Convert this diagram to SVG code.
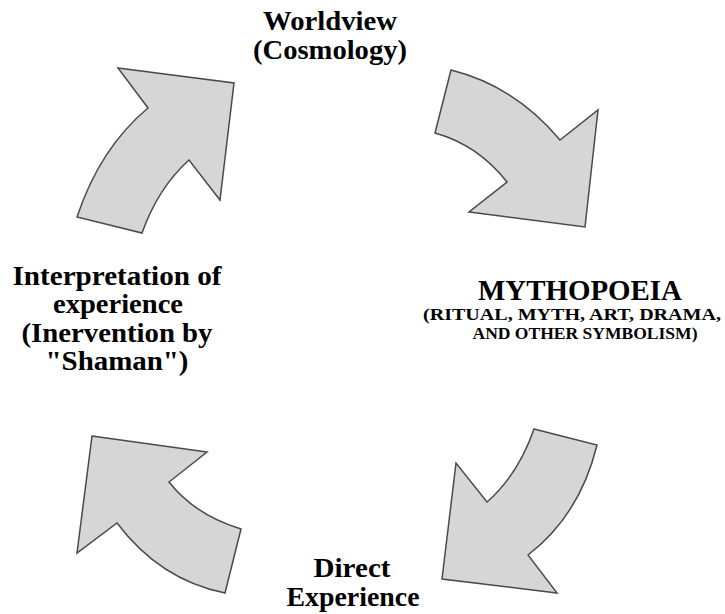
<svg xmlns="http://www.w3.org/2000/svg" width="725" height="614" viewBox="0 0 725 614">
  <style>
    .arrow { fill: #d6d6d6; stroke: #4a4a4a; stroke-width: 1.5; stroke-linejoin: miter; }
    .lbl { font-family: "Liberation Serif", "Times New Roman", serif; font-weight: bold; fill: #000; text-anchor: middle; }
    .big { font-size: 27px; }
    .title { font-size: 29px; }
    .small { font-size: 17px; }
  </style>
  <rect width="725" height="614" fill="#fff"/>
  <g id="connectors">
    <path id="arrow-top-left" class="arrow" d="M118,68 L234,83 L220,200 L189,160 Q158,188 142,233 L77,217 Q100,148 148,108 Z"/>
    <path id="arrow-top-right" class="arrow" d="M451,70 Q515,86 560,140 L598,110 L585,227 L469,212 L507,182 Q478,145 435,133 Z"/>
    <path id="arrow-bottom-right" class="arrow" d="M534,429 L597,445 Q580,515 528,555 L557,593 L442,579 L456,463 L487,502 Q518,475 534,429 Z"/>
    <path id="arrow-bottom-left" class="arrow" d="M92,436 L207,452 L169,482 Q195,515 241,529 L225,593 Q160,580 117,523 L77,553 Z"/>
  </g>
  <g id="node-worldview">
    <text class="lbl big" x="330" y="30" textLength="134" lengthAdjust="spacingAndGlyphs">Worldview</text>
    <text class="lbl big" x="330" y="59" textLength="154" lengthAdjust="spacingAndGlyphs">(Cosmology)</text>
  </g>
  <g id="node-mythopoeia">
    <text class="lbl title" x="580" y="300" textLength="204" lengthAdjust="spacingAndGlyphs">MYTHOPOEIA</text>
    <text class="lbl small" x="572" y="320" textLength="298" lengthAdjust="spacingAndGlyphs">(RITUAL, MYTH, ART, DRAMA,</text>
    <text class="lbl small" x="585" y="339" textLength="225" lengthAdjust="spacingAndGlyphs">AND OTHER SYMBOLISM)</text>
  </g>
  <g id="node-direct-experience">
    <text class="lbl big" x="352" y="577" textLength="77" lengthAdjust="spacingAndGlyphs">Direct</text>
    <text class="lbl big" x="353" y="606" textLength="133" lengthAdjust="spacingAndGlyphs">Experience</text>
  </g>
  <g id="node-interpretation">
    <text class="lbl big" x="117" y="285" textLength="209" lengthAdjust="spacingAndGlyphs">Interpretation of</text>
    <text class="lbl big" x="118" y="313" textLength="130" lengthAdjust="spacingAndGlyphs">experience</text>
    <text class="lbl big" x="117" y="342" textLength="191" lengthAdjust="spacingAndGlyphs">(Inervention by</text>
    <text class="lbl big" x="117" y="370" textLength="143" lengthAdjust="spacingAndGlyphs">"Shaman")</text>
  </g>
</svg>
